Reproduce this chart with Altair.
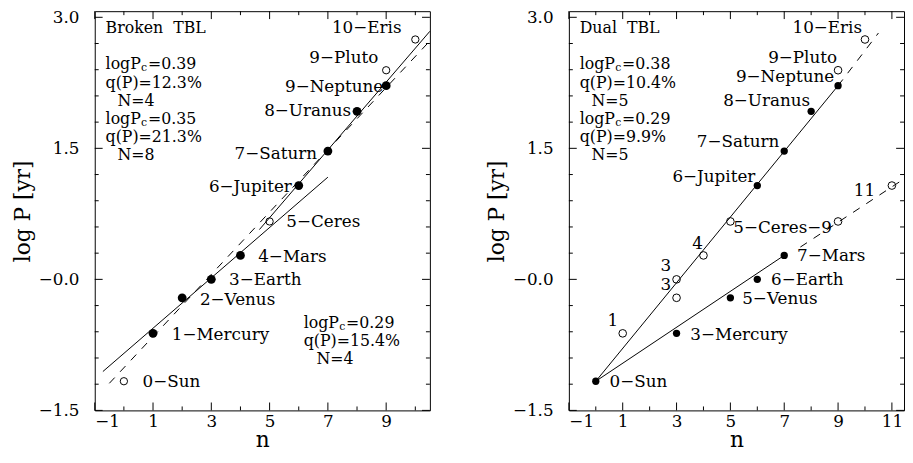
import altair as alt
import pandas as pd

# ---------------- data: left panel (Broken TBL) ----------------
left_names = ["0−Sun", "1−Mercury", "2−Venus", "3−Earth", "4−Mars", "5−Ceres",
              "6−Jupiter", "7−Saturn", "8−Uranus", "9−Neptune", "9−Pluto", "10−Eris"]
left_n = [0, 1, 2, 3, 4, 5, 6, 7, 8, 9, 9, 10]
left_logP = [-1.166, -0.618, -0.211, 0.0, 0.274, 0.663, 1.074, 1.469, 1.924, 2.217, 2.394, 2.746]
left_filled = [False, True, True, True, True, False, True, True, True, True, False, False]

left_fit_id = ["inner", "inner", "outer", "outer", "all", "all"]
left_fit_n = [-0.72, 7.0, 4.65, 10.5, -0.5, 10.5]
left_fit_logP = [-1.055, 1.17, 0.57, 2.84, -1.19, 2.73]
left_fit_dashed = [False, False, False, False, True, True]

left_title = "Broken\u00a0\u00a0TBL"
left_stats = [("0.39", "12.3%", "4"), ("0.35", "21.3%", "8")]
left_stats_low = ("0.29", "15.4%", "4")

# ---------------- data: right panel (Dual TBL) ----------------
right_names = ["0−Sun", "1", "3", "3", "4", "5−Ceres−9", "3−Mercury", "5−Venus", "6−Earth",
               "7−Mars", "", "11", "6−Jupiter", "7−Saturn", "8−Uranus", "9−Neptune",
               "9−Pluto", "10−Eris"]
right_n = [0, 1, 3, 3, 4, 5, 3, 5, 6, 7, 9, 11, 6, 7, 8, 9, 9, 10]
right_logP = [-1.166, -0.618, 0.0, -0.211, 0.274, 0.663, -0.618, -0.211, 0.0, 0.274,
              0.663, 1.074, 1.074, 1.469, 1.924, 2.217, 2.394, 2.746]
right_filled = [True, False, False, False, False, False, True, True, True, True,
                False, False, True, True, True, True, False, False]

right_fit_id = ["upper", "upper", "lower", "lower", "upper_ext", "upper_ext", "lower_ext", "lower_ext"]
right_fit_n = [0, 9, 0, 7.05, 9.0, 10.5, 7.6, 11.35]
right_fit_logP = [-1.166, 2.217, -1.166, 0.285, 2.217, 2.82, 0.37, 1.13]
right_fit_dashed = [False, False, False, False, True, True, True, True]

right_title = "Dual\u00a0\u00a0TBL"
right_stats = [("0.38", "10.4%", "5"), ("0.29", "9.9%", "5")]

y_tick_labels = [-1.5, 0.0, 1.5, 3.0]

# ---------------- styles ----------------
FONT = "DejaVu Serif"
W, H = 340, 405
FS = 17
NS = 16

left_label_style = {
    "0−Sun": ("left", 19, 1), "1−Mercury": ("left", 19, 2), "2−Venus": ("left", 18, 2),
    "3−Earth": ("left", 18, 1), "4−Mars": ("left", 18, 2), "5−Ceres": ("left", 17, 1),
    "6−Jupiter": ("right", -7, 2), "7−Saturn": ("right", -11, 3), "8−Uranus": ("right", -6, 0),
    "9−Neptune": ("right", -3, 1), "9−Pluto": ("right", -8, -12), "10−Eris": ("right", -14, -12),
}
right_label_style = {
    "0−Sun": ("left", 14, 1), "1": ("center", -10, -12), "3": ("center", -11, -13),
    "3−Mercury": ("left", 14, 2), "4": ("center", -6, -12), "5−Venus": ("left", 12, 1),
    "5−Ceres−9": ("left", 3, 7), "6−Earth": ("left", 14, 1), "7−Mars": ("left", 13, 1),
    "11": ("right", -17, 6), "6−Jupiter": ("right", -2, -9), "7−Saturn": ("right", -5, -9),
    "8−Uranus": ("right", -1, -10), "9−Neptune": ("right", -4, -9), "9−Pluto": ("right", -1, -12),
    "10−Eris": ("right", -3, -12),
}

ONE = pd.DataFrame({"k": [0]})


def note(text, px, py, size=NS, align="left"):
    return alt.Chart(ONE).mark_text(font=FONT, fontSize=size, align=align, baseline="middle",
                                    color="black").encode(
        x=alt.value(px), y=alt.value(py), text=alt.value(text))


def logpc(value, px, py):
    return [note("logP", px, py), note("c", px + 36, py + 4, size=11),
            note("=" + value, px + 43, py)]


def stats_block(stats, px, py):
    layers = []
    for i, (lp, q, n) in enumerate(stats):
        y0 = py + i * 55
        layers += logpc(lp, px, y0)
        layers.append(note("q(P)=" + q, px, y0 + 19))
        layers.append(note("N=" + n, px + 12, y0 + 37))
    return layers


def panel(names, n, logP, filled, fit_id, fit_n, fit_logP, fit_dashed, label_style,
          xmax, xlabels, fsize, osize, notes):
    pts = pd.DataFrame({"name": names, "n": n, "logP": logP, "filled": filled})
    fits = pd.DataFrame({"id": fit_id, "n": fit_n, "logP": fit_logP, "dashed": fit_dashed})

    xs = alt.Scale(domain=[-1, xmax], nice=False, zero=False)
    ys = alt.Scale(domain=[-1.5, 3.07], nice=False, zero=False)
    xenc = alt.X("n:Q", scale=xs, axis=alt.Axis(values=xlabels, title="n", format="d",
                                                labelPadding=3, titlePadding=1,
                                                titleFontSize=22))
    yenc = alt.Y("logP:Q", scale=ys, axis=alt.Axis(
        values=y_tick_labels, title="log P [yr]",
        labelExpr="datum.value == 0 ? '−0.0' : format(datum.value, '.1f')",
        labelPadding=16, titlePadding=4, titleY=H / 2, titleAlign="center"))

    layers = []
    layers.append(alt.Chart(fits[~fits.dashed]).mark_line(color="black", strokeWidth=1).encode(
        x=xenc, y=yenc, detail="id:N"))
    layers.append(alt.Chart(fits[fits.dashed]).mark_line(color="black", strokeWidth=1,
                                                          strokeDash=[8, 8]).encode(
        x=xenc, y=yenc, detail="id:N"))
    layers.append(alt.Chart(pts[pts.filled]).mark_point(shape="circle", filled=True, size=fsize,
                                                        color="black", opacity=1).encode(
        x=xenc, y=yenc))
    layers.append(alt.Chart(pts[~pts.filled]).mark_point(shape="circle", filled=False, size=osize,
                                                         color="black", strokeWidth=1,
                                                         opacity=1).encode(x=xenc, y=yenc))
    for lab, (align, dx, dy) in label_style.items():
        layers.append(alt.Chart(pts[pts.name == lab]).mark_text(
            font=FONT, fontSize=FS, align=align, baseline="middle", dx=dx, dy=dy,
            color="black").encode(x=xenc, y=yenc, text="name:N"))

    # inward ticks on all four sides
    xt = pd.DataFrame({"n": list(range(-1, int(xmax) + 1))})
    xt["major"] = xt["n"] % 2 != 0
    yt = pd.DataFrame({"logP": [round(-1.5 + 0.3 * i, 2) for i in range(16)]})
    yt["major"] = [i % 5 == 0 for i in range(16)]
    for major, ln in [(True, 8), (False, 4)]:
        xd = xt[xt.major == major]
        yd = yt[yt.major == major]
        layers.append(alt.Chart(xd).mark_rule(color="black", strokeWidth=1).encode(
            x=xenc, y=alt.value(H), y2=alt.value(H - ln)))
        layers.append(alt.Chart(xd).mark_rule(color="black", strokeWidth=1).encode(
            x=xenc, y=alt.value(0), y2=alt.value(ln)))
        layers.append(alt.Chart(yd).mark_rule(color="black", strokeWidth=1).encode(
            y=yenc, x=alt.value(0), x2=alt.value(ln)))
        layers.append(alt.Chart(yd).mark_rule(color="black", strokeWidth=1).encode(
            y=yenc, x=alt.value(W), x2=alt.value(W - ln)))

    layers += notes
    return alt.layer(*layers).properties(width=W, height=H)


left_notes = [note(left_title, 11, 17)] + stats_block(left_stats, 11, 54) + \
    logpc(left_stats_low[0], 212, 316) + [note("q(P)=" + left_stats_low[1], 212, 335),
                                           note("N=" + left_stats_low[2], 225, 353)]
right_notes = [note(right_title, 11, 17)] + stats_block(right_stats, 11, 54)

left = panel(left_names, left_n, left_logP, left_filled, left_fit_id, left_fit_n, left_fit_logP,
             left_fit_dashed, left_label_style, 10.5, [-1, 1, 3, 5, 7, 9], 80, 55, left_notes)
right = panel(right_names, right_n, right_logP, right_filled, right_fit_id, right_fit_n,
              right_fit_logP, right_fit_dashed, right_label_style, 11.45,
              [-1, 1, 3, 5, 7, 9, 11], 55, 60, right_notes)

chart = alt.hconcat(left, right, spacing=53).properties(
    padding={"left": 3, "top": -4, "right": 0, "bottom": -1}
).configure_view(stroke="black", strokeWidth=1).configure_axis(
    labelFont=FONT, labelFontSize=FS, labelColor="black", titleFont=FONT, titleFontSize=22,
    titleFontWeight="normal", titleColor="black", ticks=False, tickSize=0, domain=False,
    grid=False
)

chart.save("out.html", embed_options={"renderer": "svg", "actions": False})
